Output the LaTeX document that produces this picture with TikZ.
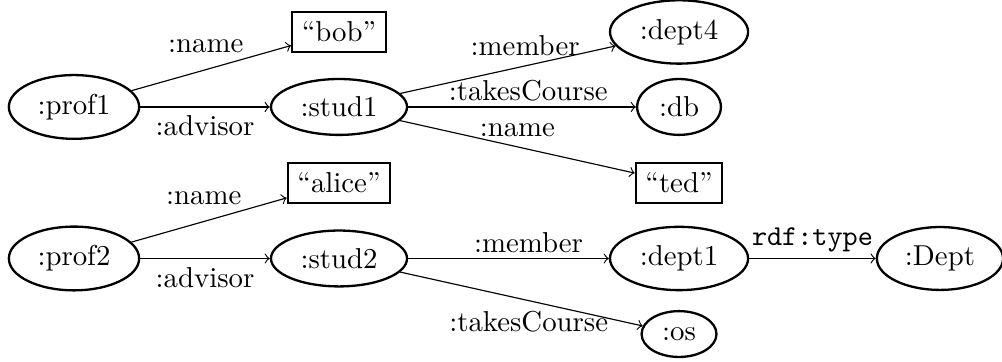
\documentclass[tikz,border=0pt]{standalone}
\usepackage{tikz}
\usetikzlibrary{arrows}
\usetikzlibrary{shapes.geometric}

\begin{document}
\begin{tikzpicture}
[>=to,res/.style={ellipse,draw,thick},lit/.style={rectangle,draw,thick}]
\useasboundingbox (0,0) rectangle (12.227,4.405);

\node[res] (prof1) at (0.903,3.100) {:prof1};
\node[lit] (bob) at (4.137,4.015) {“bob”};
\node[res] (stud1) at (4.137,3.100) {:stud1};
\node[res] (dept4) at (8.286,4.015) {:dept4};
\node[res] (db) at (8.286,3.100) {:db};
\node[lit] (ted) at (8.286,2.172) {“ted”};

\node[res] (prof2) at (0.903,1.251) {:prof2};
\node[lit] (alice) at (4.137,2.172) {“alice”};
\node[res] (stud2) at (4.137,1.251) {:stud2};
\node[res] (dept1) at (8.286,1.251) {:dept1};
\node[res] (Dept) at (11.47,1.251) {:Dept};
\node[res] (os) at (8.286,0.329) {:os};

\draw[->] (prof1) -- node[above=2.4pt,pos=0.465] {:name} (bob);
\draw[->] (prof1) -- node[below=-0.5pt] {:advisor} (stud1);
\draw[->] (stud1) -- node[above,pos=0.58] {:member} (dept4);
\draw[->] (stud1) -- node[above=-1.5pt,pos=0.527] {:takesCourse} (db);
\draw[->] (stud1) -- node[above] {:name} (ted);

\draw[->] (prof2) -- node[above=2.4pt,pos=0.465] {:name} (alice);
\draw[->] (prof2) -- node[below=-0.5pt] {:advisor} (stud2);
\draw[->] (stud2) -- node[above=-1.4pt,pos=0.6] {:member} (dept1);
\draw[->] (stud2) -- node[below,pos=0.53] {:takesCourse} (os);
\draw[->] (dept1) -- node[above=-1.4pt] {\texttt{rdf:type}} (Dept);
\end{tikzpicture}
\end{document}
